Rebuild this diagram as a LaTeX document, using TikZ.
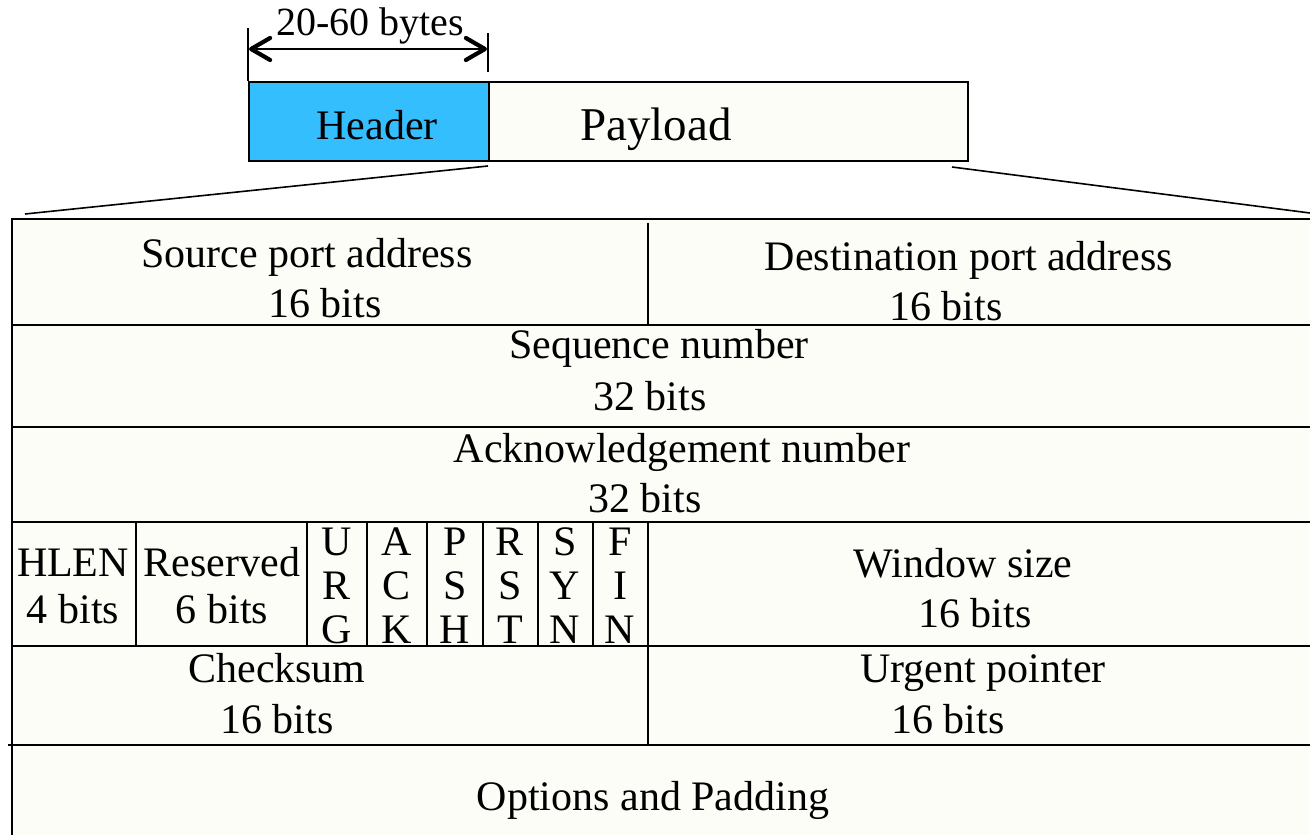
\documentclass[tikz,border=0pt]{standalone}
\usepackage{fontspec}
\setmainfont{Liberation Serif}
\usetikzlibrary{arrows.meta}
\definecolor{hdrblue}{HTML}{35BEFD}
\definecolor{cream}{HTML}{FDFDF7}
\begin{document}
\begin{tikzpicture}[x=1pt,y=-1pt,
  lbl/.style={anchor=base,inner sep=0pt,font=\fontsize{42}{50}\selectfont},
  rule/.style={line width=2pt,black},
  thin/.style={line width=1.6pt,black},
  barb/.tip={Straight Barb[length=19pt,width=22pt,line width=4.2pt,round]}]
\useasboundingbox (0,0) rectangle (1310,835);
\clip (0,0) rectangle (1310,835);
% packet
\node[draw,rule,fill=hdrblue,minimum width=240pt,minimum height=79pt,anchor=north west,inner sep=0pt] (hdr) at (248,81) {};
\node[draw,rule,fill=cream,minimum width=479pt,minimum height=79pt,anchor=north west,inner sep=0pt] (pay) at (488,81) {};
\node[lbl] (hdrtxt) at (377,139) {Header};
\node[lbl,font=\fontsize{47}{56}\selectfont] (paytxt) at (656,140) {Payload};
% dimension
\coordinate (dimL) at (248,28);
\coordinate (dimR) at (488,33);
\coordinate (dimRb) at (488,72);
\draw[thin] (dimL) -- (hdr.north west);
\draw[thin] (dimR) -- (dimRb);
\coordinate (arL) at (249,49);
\coordinate (arR) at (487,49);
\draw[line width=2pt,barb-barb] (arL) -- (arR);
\node[lbl,font=\fontsize{40}{48}\selectfont] (dimtxt) at (370,35) {20-60 bytes};
% expansion lines
\coordinate (expL) at (25,214);
\coordinate (expR) at (1310,213);
\coordinate (payB) at (952,167);
\coordinate (hdrB) at (488,166);
\draw[thin] (hdrB) -- (expL);
\draw[thin] (payB) -- (expR);
% table
\fill[cream] (12,219) rectangle (1330,850);
\draw[rule] (1330,219) -- (12,219) -- (12,850);
\foreach \yy in {325,427,522,646} \draw[rule] (12,\yy) -- (1330,\yy);
\draw[rule] (8,745) -- (1330,745);
\draw[thin] (648,223) -- (648,325);
\draw[thin] (648,522) -- (648,745);
\foreach \xx in {136,307,367,427,483,538,593} \draw[thin] (\xx,522) -- (\xx,646);
% row 1
\node[lbl] (src) at (307,267) {Source port address};
\node[lbl] (srcb) at (325,317) {16 bits};
\node[lbl] (dst) at (969,270) {Destination port address};
\node[lbl] (dstb) at (946,320) {16 bits};
% row 2, 3
\node[lbl] (seq) at (659,358) {Sequence number};
\node[lbl] (seqb) at (650,410) {32 bits};
\node[lbl] (ack) at (682,462) {Acknowledgement number};
\node[lbl] (ackb) at (645,512) {32 bits};
% row 4
\node[lbl] (hlen) at (73,576) {HLEN};
\node[lbl] (hlenb) at (73,623) {4 bits};
\node[lbl] (res) at (222,576) {Reserved};
\node[lbl] (resb) at (222,623) {6 bits};
\foreach \cx/\a/\b/\c/\nm in {337/U/R/G/urg,397/A/C/K/ack,455/P/S/H/psh,510/R/S/T/rst,565/S/Y/N/syn,620/F/I/N/fin}{
  \node[lbl] (\nm1) at (\cx,555) {\a};
  \node[lbl] (\nm2) at (\cx,599) {\b};
  \node[lbl] (\nm3) at (\cx,643) {\c};
}
\node[lbl] (win) at (963,577) {Window size};
\node[lbl] (winb) at (975,627) {16 bits};
% row 5
\node[lbl] (chk) at (277,682) {Checksum};
\node[lbl] (chkb) at (277,733) {16 bits};
\node[lbl] (urg) at (983,682) {Urgent pointer};
\node[lbl] (urgb) at (948,733) {16 bits};
% row 6
\node[lbl] (opt) at (653,810) {Options and Padding};
\end{tikzpicture}
\end{document}
